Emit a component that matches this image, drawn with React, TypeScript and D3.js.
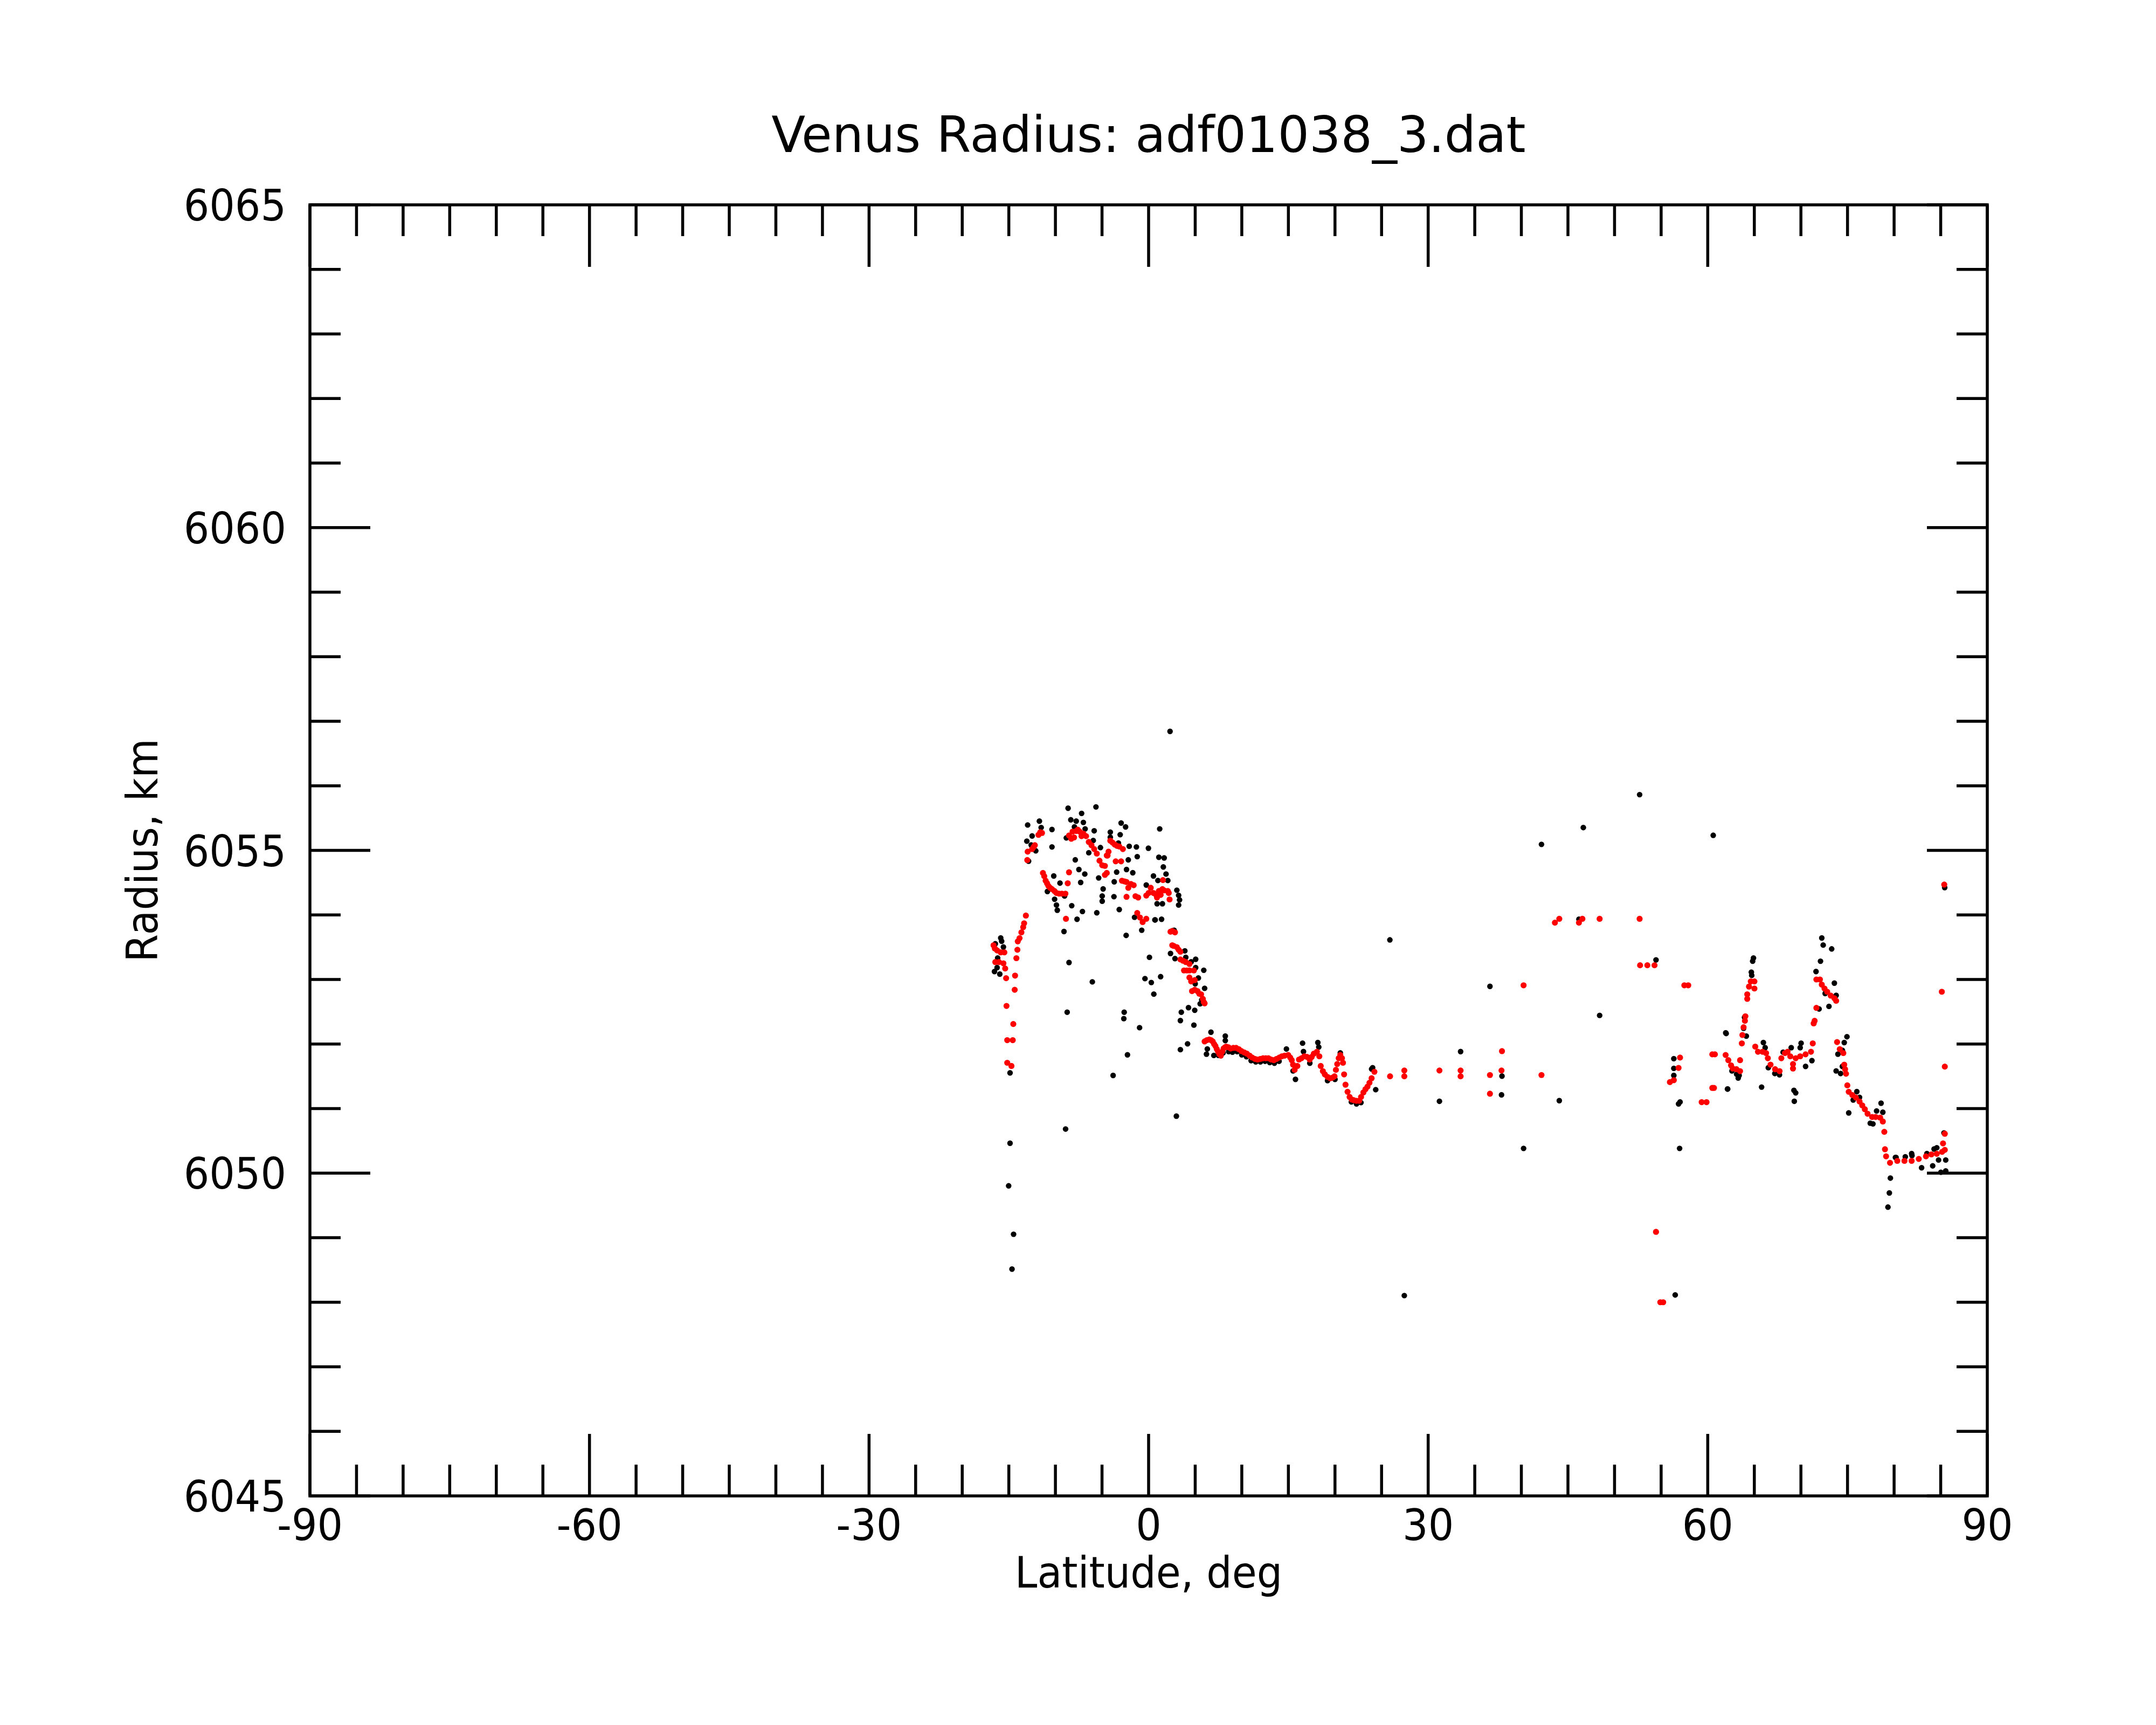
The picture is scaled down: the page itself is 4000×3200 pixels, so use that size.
import * as React from "react";
import * as d3 from "d3";

type Pt = [number, number];

// raw radius samples (black), [latitude, radius km]
const rawSouth: Pt[] = [
	[-15.87, 6053.66], [-15.77, 6053.61], [-16.45, 6053.57], [-15.58, 6053.52], [-16.54, 6053.14],
	[-15.97, 6053.1], [-16.26, 6053.2], [-16.2, 6053.35], [-14.87, 6051.57], [-14.87, 6050.48],
	[-15.02, 6049.82], [-14.49, 6049.07], [-14.66, 6048.53], [-12.98, 6055.41], [-11.72, 6055.47],
	[-11.53, 6055.37], [-13.07, 6055.16], [-12.5, 6055.24], [-10.37, 6055.34], [-10.37, 6055.07],
	[-12.11, 6055.01], [-12.88, 6054.85], [-12.6, 6055.1], [-10.86, 6054.38], [-10.09, 6054.26],
	[-9.89, 6054.17], [-9.8, 6054.09], [-9.51, 6054.51], [-9.02, 6054.31], [-10.18, 6054.62],
	[-9.08, 6053.76], [-8.54, 6053.28], [-8.74, 6052.51], [-8.91, 6050.7],
];

const rawPeak: Pt[] = [
	[-8.25, 6054.16], [-7.68, 6053.95], [-7.1, 6054.07], [-7.29, 6054.52], [-7.48, 6054.72],
	[-6.85, 6054.65], [-7.87, 6054.87], [-8.64, 6055.67], [-7.19, 6055.59], [-5.65, 6055.69],
	[-8.35, 6055.49], [-7.77, 6055.47], [-7.0, 6055.45], [-6.81, 6055.35], [-5.84, 6055.32],
	[-7.96, 6055.38], [-8.83, 6055.21], [-6.42, 6054.98], [-5.94, 6055.17], [-5.17, 6055.06],
	[-5.36, 6054.59], [-4.88, 6054.42], [-4.98, 6054.31], [-4.98, 6054.23], [-3.72, 6054.3],
	[-5.56, 6054.05], [-3.15, 6054.1], [-3.69, 6054.53], [-3.43, 6054.68], [-2.18, 6054.87],
	[-2.37, 6054.72], [-1.7, 6054.67], [-1.22, 6054.92], [-1.31, 6055.07], [-2.08, 6055.08],
	[-0.02, 6055.05], [1.19, 6055.35], [1.1, 6054.91], [1.67, 6054.9], [1.58, 6054.76],
	[0.52, 6054.62], [1.87, 6054.65], [2.06, 6054.55], [1.0, 6054.55], [-0.25, 6054.48],
	[-2.95, 6055.44], [-2.47, 6055.38], [-4.11, 6055.3], [-3.05, 6055.26], [-4.11, 6055.22],
	[-3.24, 6055.13], [-6.04, 6052.98], [-2.62, 6052.51], [-2.66, 6052.41], [-0.97, 6052.27],
	[-2.27, 6051.85], [-3.81, 6051.53], [-1.51, 6053.98], [-0.74, 6053.78], [0.67, 6053.94],
	[1.39, 6053.95], [-2.41, 6053.7], [0.09, 6053.36], [-0.39, 6053.03], [0.29, 6052.97],
	[1.29, 6053.06], [0.56, 6052.79], [0.91, 6054.19], [1.48, 6054.19], [0.71, 6053.94],
	[2.3, 6056.86], [2.98, 6050.9],
];

const rawDescent: Pt[] = [
	[2.74, 6053.78], [2.35, 6053.42], [2.83, 6053.34], [3.89, 6053.46], [3.99, 6053.36],
	[4.57, 6053.29], [5.05, 6053.33], [5.05, 6053.2], [5.92, 6053.16], [5.34, 6053.04],
	[6.01, 6052.88], [5.53, 6052.64], [4.28, 6052.58], [4.95, 6052.54], [3.51, 6052.51],
	[3.41, 6052.38], [4.86, 6052.31], [4.18, 6052.02], [3.41, 6051.93], [6.69, 6052.2],
	[8.23, 6052.14], [8.23, 6052.07], [6.21, 6051.86], [6.3, 6051.94], [3.03, 6054.4],
	[3.22, 6054.32], [3.32, 6054.25], [3.22, 6054.17], [2.54, 6053.77], [5.0, 6052.95],
	[5.7, 6052.7],
];

const rawFlat: Pt[] = [
	[7.0, 6051.84], [7.5, 6051.84], [8.0, 6051.88], [8.6, 6051.9], [9.0, 6051.89],
	[9.5, 6051.9], [10.0, 6051.85], [10.5, 6051.82], [11.0, 6051.76], [11.5, 6051.74],
	[12.0, 6051.74], [12.5, 6051.75], [13.0, 6051.73], [13.5, 6051.72], [14.0, 6051.75],
	[14.79, 6051.94], [15.5, 6051.6], [15.76, 6051.47], [16.52, 6052.03], [16.62, 6051.9],
	[17.3, 6051.72], [18.16, 6052.04], [18.26, 6051.97], [19.2, 6051.45], [20.0, 6051.47],
	[20.57, 6051.88], [21.76, 6051.12], [22.31, 6051.09], [22.79, 6051.11], [23.93, 6051.63],
	[24.04, 6051.65], [24.37, 6051.31], [25.89, 6053.63],
];

const rawSparse: Pt[] = [
	[27.44, 6048.12], [31.21, 6051.13], [33.48, 6051.9], [36.63, 6052.91], [37.92, 6051.52],
	[37.87, 6051.23], [40.24, 6050.4], [42.16, 6055.11], [44.07, 6051.14], [46.18, 6053.95],
	[46.65, 6055.37], [48.4, 6052.46], [52.69, 6055.88], [54.45, 6053.32], [56.51, 6048.13],
	[60.59, 6055.25], [56.36, 6051.53], [56.36, 6051.64], [56.36, 6051.79], [56.87, 6051.09],
	[57.03, 6051.12], [56.98, 6050.4], [61.93, 6052.19], [62.14, 6051.32],
];

const rawNorth: Pt[] = [
	[72.24, 6053.66], [72.39, 6053.55], [73.3, 6053.49], [72.1, 6053.3], [71.62, 6053.14],
	[73.59, 6052.96], [73.78, 6052.77], [73.01, 6052.6], [71.95, 6052.56], [72.6, 6052.8],
	[64.91, 6053.35], [64.82, 6053.3], [64.68, 6053.13], [64.72, 6053.08], [63.95, 6052.43],
	[63.85, 6052.26], [64.14, 6052.14], [61.98, 6052.18], [62.12, 6051.32], [65.78, 6051.35],
	[63.27, 6051.49], [63.37, 6051.53], [65.97, 6052.04], [66.16, 6051.96], [66.5, 6051.65],
	[67.2, 6051.56], [67.7, 6051.54], [68.09, 6051.89], [68.96, 6051.96], [70.02, 6052.03],
	[69.92, 6051.96], [70.5, 6051.67], [71.18, 6051.76], [69.25, 6051.3], [69.44, 6051.26],
	[69.29, 6051.13], [74.94, 6052.13], [74.65, 6052.04], [74.45, 6051.92], [73.97, 6051.86],
	[73.78, 6051.6], [74.45, 6051.67], [74.26, 6051.56], [76.0, 6051.28], [76.29, 6051.19],
	[75.61, 6051.15], [75.13, 6050.95], [78.6, 6051.1], [78.12, 6050.98], [78.79, 6050.96],
	[77.44, 6050.79], [77.73, 6050.78], [85.35, 6050.64], [84.58, 6050.41], [84.29, 6050.39],
	[80.14, 6050.26], [81.2, 6050.27], [81.88, 6050.32], [83.52, 6050.32], [85.54, 6050.22],
	[84.77, 6050.22], [79.6, 6049.94], [79.49, 6049.71], [79.34, 6049.49], [85.02, 6050.03],
	[85.54, 6050.05], [82.95, 6050.1], [84.14, 6050.13], [81.92, 6050.29], [80.21, 6050.26],
	[85.43, 6054.44], [62.6, 6051.6], [63.1, 6051.55],
];

// filtered radius (red)
const fitSouth: Pt[] = [
	[-16.64, 6053.53], [-16.5, 6053.48], [-16.26, 6053.45], [-15.87, 6053.42], [-15.48, 6053.42],
	[-16.45, 6053.27], [-16.06, 6053.27], [-15.58, 6053.25], [-15.39, 6053.17], [-15.29, 6053.02],
	[-14.33, 6053.06], [-14.37, 6052.84], [-15.25, 6052.59], [-14.52, 6052.31], [-15.17, 6052.06],
	[-14.58, 6052.06], [-15.17, 6051.71], [-14.72, 6051.66], [-13.17, 6053.99], [-13.36, 6053.87],
	[-13.46, 6053.81], [-13.65, 6053.73], [-13.85, 6053.64], [-14.04, 6053.59], [-14.08, 6053.46],
	[-14.19, 6053.33], [-11.82, 6055.24], [-11.44, 6055.27], [-11.63, 6055.28], [-12.21, 6055.08],
	[-12.35, 6055.05], [-12.5, 6055.02], [-12.98, 6054.98], [-13.02, 6054.85], [-11.34, 6054.65],
	[-11.2, 6054.6], [-11.05, 6054.53], [-10.9, 6054.49], [-10.76, 6054.45], [-10.57, 6054.42],
	[-10.37, 6054.4], [-10.1, 6054.37], [-9.89, 6054.34], [-9.6, 6054.33], [-9.31, 6054.33],
	[-8.93, 6054.33], [-8.54, 6054.66], [-8.68, 6054.49], [-8.87, 6053.94],
];

const fitPeak: Pt[] = [
	[-8.54, 6055.23], [-8.3, 6055.18], [-8.16, 6055.29], [-8.0, 6055.2], [-7.77, 6055.3],
	[-7.6, 6055.32], [-7.39, 6055.29], [-7.2, 6055.22], [-7.0, 6055.26], [-6.71, 6055.22],
	[-6.42, 6055.13], [-6.13, 6055.08], [-5.84, 6055.02], [-5.56, 6054.95], [-5.27, 6054.84],
	[-4.98, 6054.77], [-4.69, 6054.76], [-4.49, 6054.92], [-4.3, 6054.98], [-4.69, 6054.62],
	[-4.49, 6054.65], [-4.11, 6055.15], [-3.87, 6055.12], [-3.63, 6055.09], [-3.4, 6055.07],
	[-3.15, 6055.06], [-2.76, 6055.02], [-3.53, 6054.83], [-2.95, 6054.83], [-4.4, 6054.92],
	[-2.86, 6054.53], [-2.6, 6054.52], [-2.37, 6054.51], [-1.9, 6054.48], [-1.6, 6054.46],
	[-2.18, 6054.42], [-2.37, 6054.28], [-1.41, 6054.29], [-1.12, 6054.27], [-0.25, 6054.3],
	[0.0, 6054.34], [0.23, 6054.42], [0.52, 6054.34], [0.81, 6054.31], [0.9, 6054.27],
	[1.1, 6054.37], [1.29, 6054.31], [1.48, 6054.4], [1.67, 6054.38], [2.06, 6054.37],
	[2.16, 6054.34], [2.25, 6054.24], [1.54, 6054.54], [-1.22, 6054.03], [-0.93, 6053.96],
	[-0.64, 6053.89], [-0.25, 6053.94],
];

const fitDescent: Pt[] = [
	[2.35, 6053.74], [2.55, 6053.75], [2.83, 6053.73], [2.54, 6053.53], [2.7, 6053.52],
	[3.03, 6053.5], [3.22, 6053.46], [3.41, 6053.43], [3.41, 6053.31], [3.7, 6053.29],
	[3.99, 6053.27], [4.38, 6053.24], [3.8, 6053.14], [4.1, 6053.14], [4.38, 6053.14],
	[4.86, 6053.14], [4.38, 6053.03], [4.57, 6052.97], [4.95, 6052.99], [4.66, 6052.82],
	[4.95, 6052.84], [5.24, 6052.82], [5.43, 6052.78], [5.63, 6052.77], [5.82, 6052.7],
	[5.92, 6052.65], [6.01, 6052.63],
];

const fitFlat: Pt[] = [
	[6.01, 6052.04], [6.25, 6052.06], [6.5, 6052.07], [6.7, 6052.06], [6.88, 6052.04],
	[7.03, 6052.0], [7.17, 6051.97], [7.32, 6051.92], [7.46, 6051.88], [7.6, 6051.84],
	[7.75, 6051.82], [7.9, 6051.88], [8.04, 6051.93], [8.2, 6051.95], [8.33, 6051.96],
	[8.57, 6051.95], [8.81, 6051.93], [9.1, 6051.94], [9.39, 6051.94], [9.68, 6051.92],
	[9.97, 6051.89], [10.26, 6051.87], [10.55, 6051.85], [10.84, 6051.82], [11.12, 6051.79],
	[11.41, 6051.77], [11.7, 6051.76], [12.0, 6051.77], [12.28, 6051.78], [12.57, 6051.78],
	[12.86, 6051.78], [13.15, 6051.76], [13.44, 6051.75], [13.73, 6051.77], [14.02, 6051.79],
	[14.3, 6051.81], [14.59, 6051.82], [14.98, 6051.83], [15.2, 6051.79], [15.36, 6051.75],
	[15.5, 6051.68], [15.67, 6051.6], [15.96, 6051.66], [16.14, 6051.76], [16.4, 6051.78],
	[16.71, 6051.81], [17.0, 6051.8], [17.29, 6051.76], [17.5, 6051.8], [17.73, 6051.85],
	[18.06, 6051.88], [18.32, 6051.81], [18.47, 6051.66], [18.7, 6051.58], [18.91, 6051.53],
	[19.2, 6051.49], [19.5, 6051.47], [19.75, 6051.48], [19.95, 6051.5], [20.1, 6051.6],
	[20.24, 6051.69], [20.4, 6051.78], [20.57, 6051.83], [20.75, 6051.78], [20.86, 6051.71],
	[20.98, 6051.53], [21.13, 6051.37], [21.35, 6051.26], [21.57, 6051.18], [21.8, 6051.14],
	[22.01, 6051.13], [22.3, 6051.12], [22.6, 6051.12], [22.8, 6051.18], [23.05, 6051.25],
	[23.27, 6051.3], [23.49, 6051.34], [23.7, 6051.4], [23.93, 6051.47], [24.23, 6051.57],
	[25.91, 6051.5],
];

const fitSparse: Pt[] = [
	[27.44, 6051.59], [27.44, 6051.5], [31.21, 6051.59], [33.48, 6051.59], [33.48, 6051.5],
	[36.63, 6051.52], [36.63, 6051.23], [37.92, 6051.89], [37.87, 6051.59], [40.24, 6052.91],
	[42.16, 6051.52], [43.6, 6053.88], [44.07, 6053.94], [46.18, 6053.88], [46.55, 6053.94],
	[48.4, 6053.94], [52.69, 6053.94], [52.74, 6053.22], [53.52, 6053.22], [54.29, 6053.22],
	[54.45, 6049.09], [54.91, 6048.0], [55.22, 6048.0], [57.49, 6052.91], [57.91, 6052.91],
	[55.94, 6051.41], [56.36, 6051.44], [56.87, 6051.63], [57.03, 6051.79], [59.35, 6051.1],
	[59.87, 6051.1], [60.49, 6051.32], [60.49, 6051.84],
];

const fitNorth: Pt[] = [
	[64.62, 6052.97], [65.01, 6052.97], [64.43, 6052.89], [65.01, 6052.86], [64.24, 6052.77],
	[64.24, 6052.7], [64.04, 6052.43], [63.99, 6052.36], [63.85, 6052.26], [63.72, 6052.14],
	[63.66, 6052.01], [65.1, 6051.96], [65.39, 6051.88], [65.88, 6051.88], [66.26, 6051.86],
	[66.45, 6051.78], [66.74, 6051.68], [67.23, 6051.61], [67.71, 6051.58], [67.9, 6051.78],
	[68.29, 6051.86], [68.57, 6051.88], [68.86, 6051.81], [69.15, 6051.69], [69.15, 6051.62],
	[69.44, 6051.78], [69.92, 6051.81], [70.5, 6051.84], [71.08, 6051.88], [71.27, 6052.01],
	[63.47, 6051.75], [61.92, 6051.83], [62.21, 6051.75], [62.5, 6051.67], [62.69, 6051.62],
	[63.08, 6051.61], [63.47, 6051.58], [60.77, 6051.84], [60.67, 6051.32], [71.66, 6053.0],
	[72.04, 6053.0], [72.24, 6052.92], [72.53, 6052.86], [72.82, 6052.81], [73.2, 6052.75],
	[73.59, 6052.71], [73.78, 6052.67], [71.66, 6052.56], [71.47, 6052.36], [71.37, 6052.32],
	[73.88, 6052.03], [74.17, 6051.92], [74.55, 6051.86], [74.65, 6051.68], [74.74, 6051.61],
	[74.84, 6051.54], [74.98, 6051.36], [75.13, 6051.26], [75.52, 6051.21], [75.9, 6051.17],
	[76.29, 6051.11], [76.58, 6051.05], [76.86, 6050.99], [77.15, 6050.92], [77.64, 6050.87],
	[78.02, 6050.87], [78.5, 6050.86], [78.79, 6050.8], [78.95, 6050.64], [79.02, 6050.37],
	[79.14, 6050.26], [79.56, 6050.16], [80.34, 6050.19], [81.11, 6050.19], [81.88, 6050.19],
	[82.65, 6050.22], [83.42, 6050.26], [84.0, 6050.29], [84.58, 6050.3], [85.15, 6050.33],
	[85.44, 6050.36], [85.25, 6050.46], [85.44, 6050.61], [85.12, 6052.81], [85.44, 6051.65],
	[85.38, 6054.47],
];

const rawPoints = [...rawSouth, ...rawPeak, ...rawDescent, ...rawFlat, ...rawSparse, ...rawNorth];
const fitPoints = [...fitSouth, ...fitPeak, ...fitDescent, ...fitFlat, ...fitSparse, ...fitNorth];

const latMajor = [-90, -60, -30, 0, 30, 60, 90];
const radiusMajor = [6045, 6050, 6055, 6060, 6065];

const title = "Venus Radius: adf01038_3.dat";
const xLabel = "Latitude, deg";
const yLabel = "Radius, km";

const width = 4000;
const height = 3200;
const margin = { left: 575, right: 313, top: 380, bottom: 425 };
const font = "DejaVu Sans, Liberation Sans, sans-serif";
const squash = 0.935;
const lw = 5.5;

function Label({ x, y, anchor, children, rotate }: {
	x: number; y: number; anchor: string; children: React.ReactNode; rotate?: boolean;
}) {
	return (
		<text
			transform={`translate(${x},${y})${rotate ? " rotate(-90)" : ""} scale(${squash},1)`}
			textAnchor={anchor}
			fontSize={80}
		>
			{children}
		</text>
	);
}

export default function App() {
	const x = d3.scaleLinear([-90, 90], [margin.left, width - margin.right]);
	const y = d3.scaleLinear([6045, 6065], [height - margin.bottom, margin.top]);
	const [x0, x1] = x.range();
	const [y0, y1] = y.range();

	const latMinor = d3.range(-90, 90.1, 5);
	const radiusMinor = d3.range(6045, 6065.1, 1);

	const ticks: JSX.Element[] = [];
	latMinor.forEach((v) => {
		const len = latMajor.includes(v) ? 115 : 58;
		ticks.push(<line key={`xb${v}`} x1={x(v)} x2={x(v)} y1={y0} y2={y0 - len} />);
		ticks.push(<line key={`xt${v}`} x1={x(v)} x2={x(v)} y1={y1} y2={y1 + len} />);
	});
	radiusMinor.forEach((v) => {
		const len = radiusMajor.includes(v) ? 112 : 57;
		ticks.push(<line key={`yl${v}`} x1={x0} x2={x0 + len} y1={y(v)} y2={y(v)} />);
		ticks.push(<line key={`yr${v}`} x1={x1} x2={x1 - len} y1={y(v)} y2={y(v)} />);
	});

	return (
		<svg
			width={width}
			height={height}
			viewBox={`0 0 ${width} ${height}`}
			style={{ position: "absolute", left: 0, top: 0, background: "white" }}
			fontFamily={font}
		>
			<rect width={width} height={height} fill="white" />
			<g>
				{rawPoints.map(([lat, r], i) => (
					<circle key={`b${i}`} cx={x(lat)} cy={y(r) + 2} r={5.2} fill="black" />
				))}
				{fitPoints.map(([lat, r], i) => (
					<circle key={`r${i}`} cx={x(lat)} cy={y(r)} r={5.6} fill="#ff0000" />
				))}
			</g>
			<g stroke="black" strokeWidth={lw} fill="none">
				{ticks}
				<rect x={x0} y={y1} width={x1 - x0} height={y0 - y1} strokeLinejoin="miter" />
			</g>
			<g fill="black">
				{latMajor.map((v) => (
					<Label key={`xl${v}`} x={x(v)} y={y0 + 82} anchor="middle">
						{v}
					</Label>
				))}
				{radiusMajor.map((v) => (
					<Label key={`yl${v}`} x={x0 - 44} y={y(v) + 29} anchor="end">
						{v}
					</Label>
				))}
				<Label x={(x0 + x1) / 2} y={2945} anchor="middle">
					{xLabel}
				</Label>
				<Label x={292} y={(y0 + y1) / 2} anchor="middle" rotate>
					{yLabel}
				</Label>
				<text x={(x0 + x1) / 2} y={282} textAnchor="middle" fontSize={92}>
					{title}
				</text>
			</g>
		</svg>
	);
}
